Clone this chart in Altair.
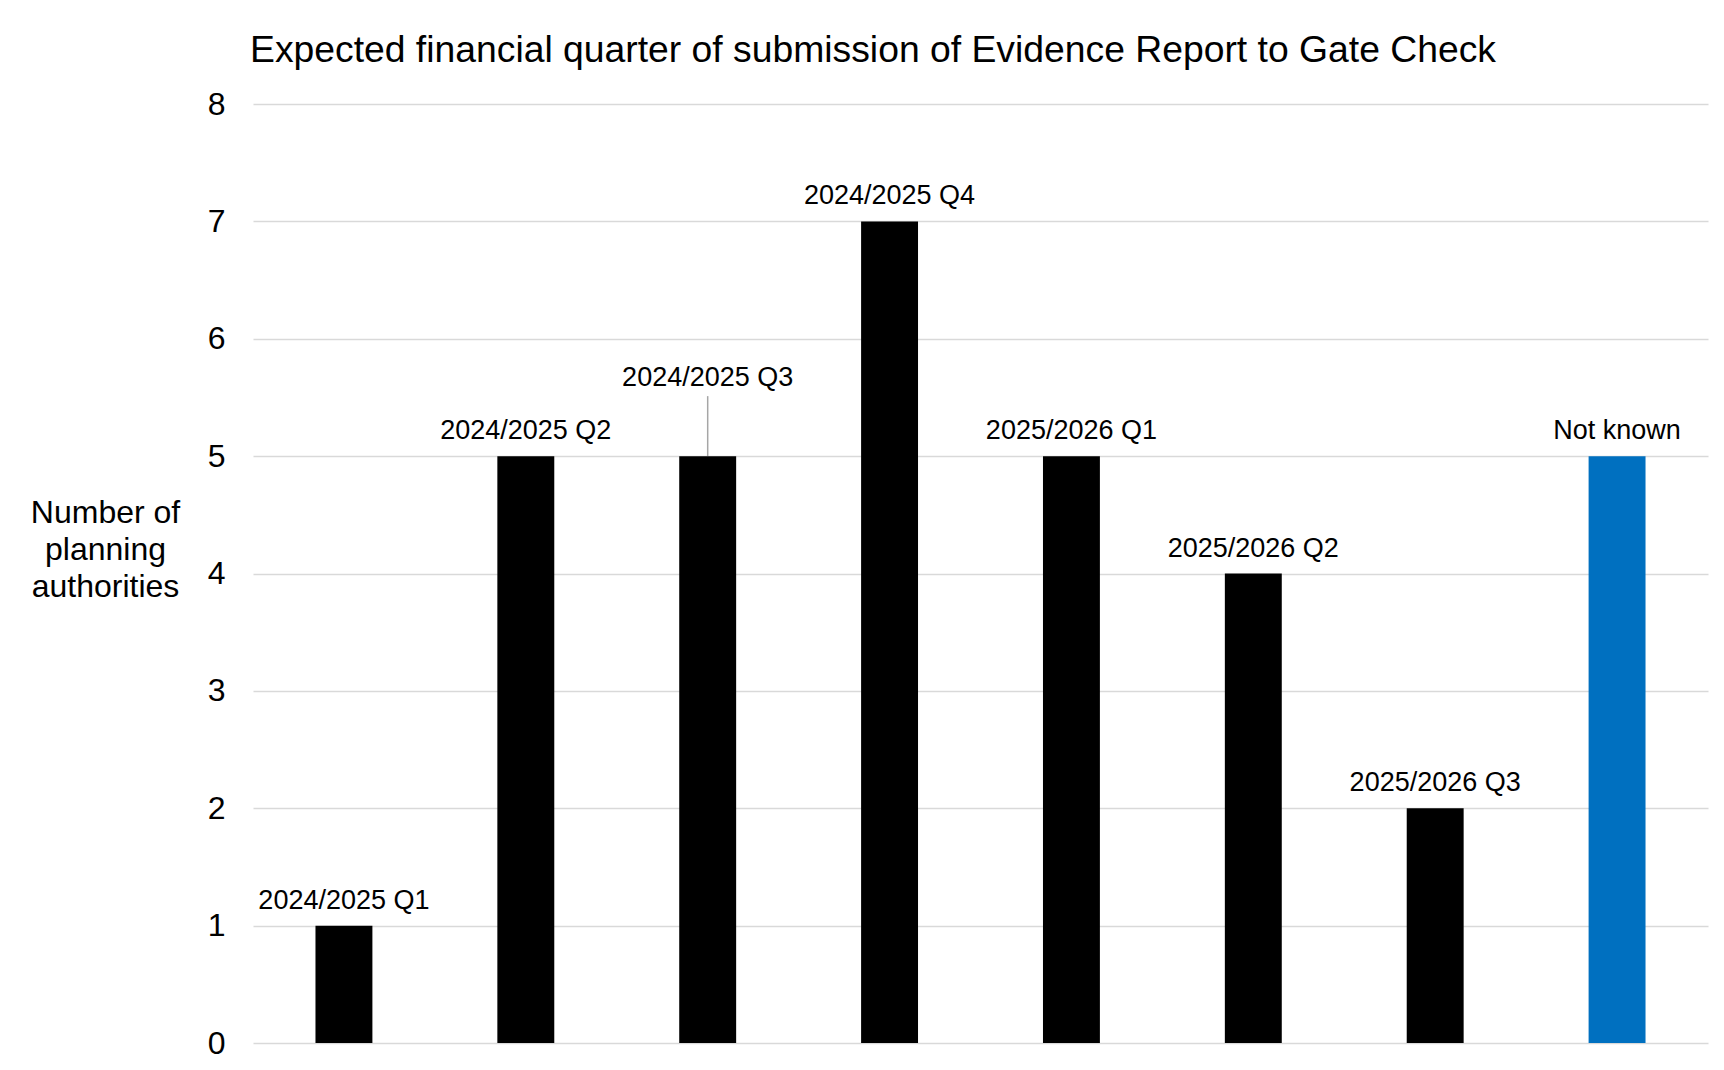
import altair as alt
import pandas as pd

categories = ["2024/2025 Q1", "2024/2025 Q2", "2024/2025 Q3", "2024/2025 Q4",
              "2025/2026 Q1", "2025/2026 Q2", "2025/2026 Q3", "Not known"]
counts = [1, 5, 5, 7, 5, 4, 2, 5]
bar_colors = ["#000000", "#000000", "#000000", "#000000",
              "#000000", "#000000", "#000000", "#0070C0"]
callout = "2024/2025 Q3"
y_title = ["Number of", "planning", "authorities"]
chart_title = "Expected financial quarter of submission of Evidence Report to Gate Check"

df = pd.DataFrame({"quarter": categories, "count": counts, "color": bar_colors})

FONT = "Liberation Sans"

x = alt.X("quarter:N", sort=categories, axis=None,
          scale=alt.Scale(paddingInner=0.687, paddingOuter=0.3435))
y = alt.Y("count:Q", scale=alt.Scale(domain=[0, 8]),
          axis=alt.Axis(values=list(range(9)), title=y_title, titleAngle=0,
                        titleX=-148, titleY=408, titleAlign="center",
                        titleBaseline="middle", titleFontSize=32, titleFont=FONT,
                        titleFontWeight="normal", titleLineHeight=37,
                        titleColor="#000000", labelFontSize=32, labelFont=FONT,
                        labelColor="#000000", labelPadding=28, ticks=False,
                        domain=False, grid=True, gridColor="#D9D9D9",
                        gridWidth=1.5))

base = alt.Chart(df)

bars = base.mark_bar().encode(
    x=x, y=y, color=alt.Color("color:N", scale=None))

labels = base.transform_filter(alt.datum.quarter != callout).mark_text(
    font=FONT, fontSize=27, baseline="alphabetic", dy=-17, color="#000000"
).encode(x=x, y=y, text="quarter:N")

callout_label = base.transform_filter(alt.datum.quarter == callout).mark_text(
    font=FONT, fontSize=27, baseline="alphabetic", dy=-70, color="#000000"
).encode(x=x, y=y, text="quarter:N")

leader = base.transform_filter(alt.datum.quarter == callout).mark_rule(
    color="#A6A6A6", strokeWidth=1.5, y2Offset=-60
).encode(x=x, y=y, y2=alt.Y2("count:Q"))

chart = alt.layer(leader, bars, labels, callout_label).properties(
    width=1455, height=939,
    autosize=alt.AutoSizeParams(type="none"),
    padding={"left": 253, "top": 104, "right": 16, "bottom": 27},
    background="#FFFFFF",
    title=alt.TitleParams(text=chart_title, anchor="start", frame="group",
                          fontSize=37.3, font=FONT, fontWeight="normal",
                          color="#000000", offset=29, baseline="alphabetic",
                          dx=-3, dy=40),
).configure_view(stroke="transparent", strokeWidth=0)

chart.save("out.html", embed_options={"renderer": "svg", "actions": False})
